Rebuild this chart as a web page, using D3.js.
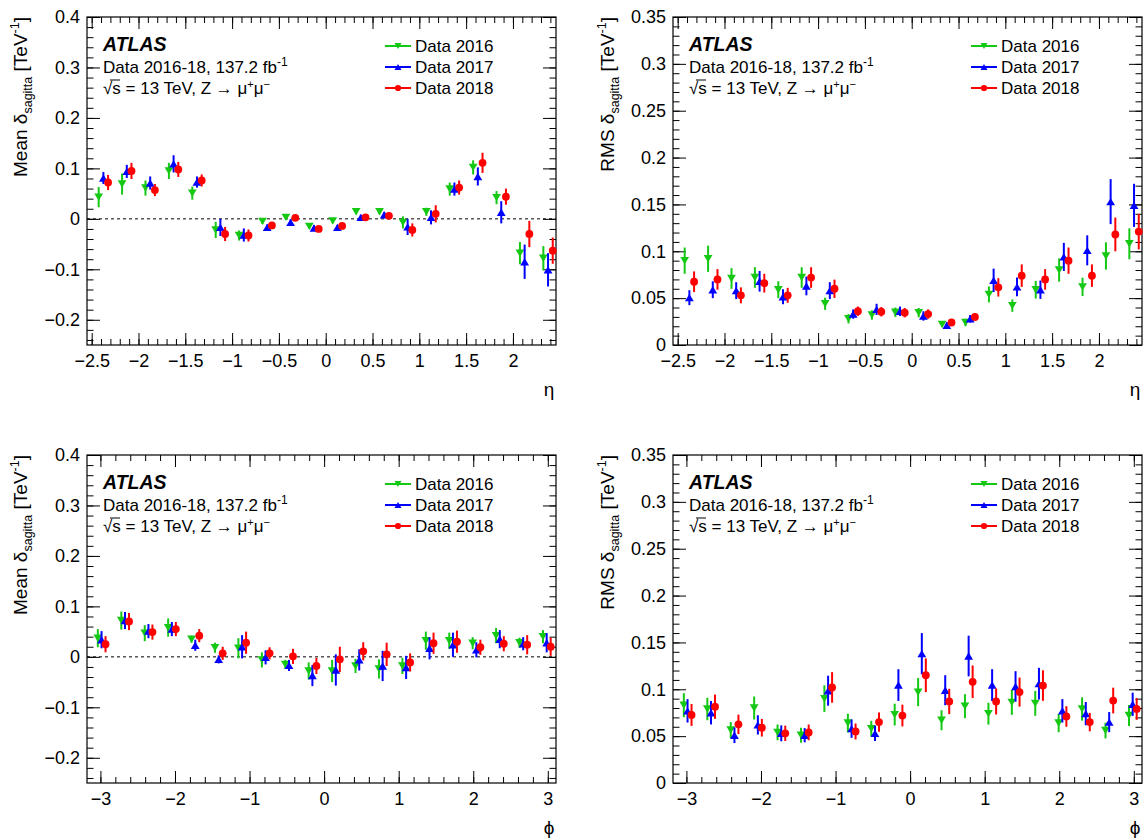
<!DOCTYPE html>
<html><head><meta charset="utf-8">
<script src="https://cdn.jsdelivr.net/npm/d3@7"></script>
<style>
body{margin:0;background:#fff;}
svg text{font-family:"Liberation Sans",Arial,Helvetica,sans-serif;fill:#000;}
</style></head><body>
<svg id="c" width="1146" height="839"></svg>
<script>
// ---------- data ----------
const seriesNames = ["Data 2016", "Data 2017", "Data 2018"];
const seriesColors = ["#14c814", "#0000ff", "#ff0000"];

const etaCenters = [-2.375,-2.125,-1.875,-1.625,-1.375,-1.125,-0.875,-0.625,-0.375,-0.125,0.125,0.375,0.625,0.875,1.125,1.375,1.625,1.875,2.125,2.375];
const phiCenters = [-2.985,-2.670,-2.356,-2.042,-1.728,-1.414,-1.100,-0.785,-0.471,-0.157,0.157,0.471,0.785,1.100,1.414,1.728,2.042,2.356,2.670,2.985];

const meanEta2016 = [0.043,0.069,0.061,0.095,0.051,-0.022,-0.033,-0.005,0.003,-0.015,-0.004,0.014,0.014,-0.007,0.014,0.059,0.102,0.042,-0.068,-0.078];
const meanEta2016Err = [0.020,0.021,0.015,0.016,0.013,0.016,0.010,0.005,0.005,0.005,0.005,0.005,0.005,0.012,0.008,0.013,0.014,0.013,0.022,0.024];
const meanEta2017 = [0.081,0.094,0.071,0.109,0.073,-0.017,-0.032,-0.017,-0.007,-0.018,-0.017,0.003,0.008,-0.016,0.003,0.059,0.084,0.013,-0.085,-0.101];
const meanEta2017Err = [0.012,0.013,0.013,0.017,0.011,0.017,0.013,0.006,0.006,0.005,0.005,0.005,0.005,0.016,0.014,0.013,0.018,0.022,0.034,0.033];
const meanEta2018 = [0.072,0.095,0.057,0.098,0.076,-0.030,-0.033,-0.013,0.002,-0.020,-0.014,0.003,0.006,-0.022,0.010,0.062,0.111,0.044,-0.030,-0.063];
const meanEta2018Err = [0.015,0.016,0.012,0.015,0.012,0.014,0.012,0.005,0.005,0.005,0.005,0.005,0.005,0.013,0.017,0.014,0.020,0.016,0.026,0.026];

const rmsEta2016 = [0.090,0.092,0.071,0.072,0.059,0.072,0.044,0.028,0.032,0.035,0.0345,0.022,0.024,0.054,0.042,0.059,0.080,0.062,0.095,0.108];
const rmsEta2016Err = [0.014,0.014,0.011,0.011,0.009,0.011,0.0065,0.005,0.005,0.005,0.005,0.003,0.004,0.0085,0.0066,0.0094,0.0124,0.0098,0.0146,0.0165];
const rmsEta2017 = [0.0505,0.059,0.058,0.068,0.0515,0.063,0.058,0.033,0.038,0.036,0.031,0.021,0.028,0.069,0.062,0.059,0.094,0.101,0.153,0.149];
const rmsEta2017Err = [0.008,0.009,0.009,0.011,0.008,0.010,0.009,0.005,0.006,0.005,0.005,0.003,0.004,0.0125,0.010,0.0098,0.015,0.016,0.024,0.023];
const rmsEta2018 = [0.0675,0.070,0.053,0.066,0.053,0.072,0.060,0.036,0.0355,0.0345,0.033,0.024,0.030,0.0615,0.074,0.070,0.090,0.074,0.118,0.121];
const rmsEta2018Err = [0.011,0.011,0.0085,0.010,0.008,0.011,0.0098,0.005,0.005,0.005,0.005,0.003,0.004,0.0098,0.012,0.011,0.014,0.012,0.018,0.019];

const meanPhi2016 = [0.037,0.072,0.047,0.058,0.035,0.018,0.017,-0.006,-0.015,-0.028,-0.028,-0.018,-0.024,-0.018,0.032,0.032,0.027,0.042,0.028,0.040];
const meanPhi2016Err = [0.018,0.018,0.016,0.018,0.007,0.010,0.020,0.015,0.009,0.017,0.022,0.014,0.019,0.016,0.018,0.016,0.012,0.015,0.010,0.013];
const meanPhi2017 = [0.034,0.072,0.051,0.055,0.023,-0.005,0.020,-0.001,-0.017,-0.037,-0.026,-0.006,-0.018,-0.021,0.017,0.024,0.014,0.035,0.026,0.028];
const meanPhi2017Err = [0.017,0.017,0.014,0.014,0.011,0.008,0.023,0.014,0.011,0.021,0.031,0.021,0.030,0.023,0.022,0.024,0.015,0.018,0.013,0.019];
const meanPhi2018 = [0.025,0.070,0.049,0.055,0.042,0.007,0.028,0.007,0.001,-0.018,-0.005,0.011,0.005,-0.011,0.027,0.030,0.019,0.026,0.024,0.020];
const meanPhi2018Err = [0.016,0.017,0.015,0.014,0.013,0.013,0.022,0.012,0.015,0.016,0.025,0.018,0.023,0.018,0.021,0.022,0.015,0.015,0.019,0.018];

const rmsPhi2016 = [0.083,0.079,0.0565,0.080,0.054,0.051,0.090,0.064,0.058,0.073,0.097,0.067,0.082,0.074,0.086,0.085,0.064,0.079,0.056,0.072];
const rmsPhi2016Err = [0.0128,0.012,0.0085,0.0123,0.0084,0.008,0.0142,0.010,0.0084,0.0116,0.015,0.0107,0.0128,0.0117,0.0133,0.0133,0.0098,0.0124,0.0084,0.0112];
const rmsPhi2017 = [0.077,0.075,0.051,0.062,0.053,0.051,0.0985,0.058,0.053,0.1045,0.138,0.099,0.1355,0.1045,0.103,0.106,0.077,0.074,0.065,0.084];
const rmsPhi2017Err = [0.0125,0.0125,0.0084,0.0103,0.0085,0.0076,0.016,0.0098,0.0082,0.0169,0.022,0.016,0.0217,0.017,0.0163,0.0169,0.0125,0.0124,0.0107,0.0124];
const rmsPhi2018 = [0.0726,0.0814,0.0626,0.059,0.053,0.054,0.102,0.055,0.065,0.072,0.115,0.087,0.108,0.087,0.097,0.104,0.071,0.065,0.088,0.079];
const rmsPhi2018Err = [0.0117,0.013,0.0103,0.0094,0.0082,0.0084,0.0163,0.0085,0.0103,0.0116,0.018,0.0135,0.0174,0.0139,0.0155,0.0163,0.011,0.0098,0.0137,0.0116];

const etaTicks = [-2.5,-2,-1.5,-1,-0.5,0,0.5,1,1.5,2];
const phiTicks = [-3,-2,-1,0,1,2,3];
const meanTicks = [-0.2,-0.1,0,0.1,0.2,0.3,0.4];
const rmsTicks = [0,0.05,0.1,0.15,0.2,0.25,0.3,0.35];

// ---------- drawing ----------
const svg = d3.select("#c");
const FONT = '"Liberation Sans",Arial,Helvetica,sans-serif';
const fmt = d => d === 0 ? "0" : String(+d.toFixed(3)).replace("-", "\u2212");

function minorRange(a, b, step) {
  const out = [];
  const n = Math.round((b - a) / step);
  for (let i = 0; i <= n; i++) out.push(+(a + i * step).toFixed(4));
  return out;
}

function drawPanel(cfg) {
  const g = svg.append("g");
  const x = d3.scaleLinear().domain(cfg.xDomain).range([cfg.left, cfg.right]);
  const y = d3.scaleLinear().domain(cfg.yDomain).range([cfg.bottom, cfg.top]);

  const addAxis = (axis, tx, ty) => {
    const a = g.append("g").attr("transform", `translate(${tx},${ty})`).call(axis);
    a.select(".domain").remove();
    a.selectAll("line").attr("stroke", "#000").attr("stroke-width", 1);
    a.selectAll("text").attr("font-family", FONT).attr("font-size", 18).attr("fill", "#000");
    return a;
  };
  // x axes
  addAxis(d3.axisBottom(x).tickValues(cfg.xTicks).tickSize(-12).tickPadding(9).tickFormat(fmt), 0, cfg.bottom);
  addAxis(d3.axisBottom(x).tickValues(cfg.xMinor).tickSize(-6).tickFormat(""), 0, cfg.bottom);
  addAxis(d3.axisTop(x).tickValues(cfg.xTicks).tickSize(-12).tickFormat(""), 0, cfg.top);
  addAxis(d3.axisTop(x).tickValues(cfg.xMinor).tickSize(-6).tickFormat(""), 0, cfg.top);
  // y axes
  addAxis(d3.axisLeft(y).tickValues(cfg.yTicks).tickSize(-13).tickPadding(7).tickFormat(fmt), cfg.left, 0);
  addAxis(d3.axisLeft(y).tickValues(cfg.yMinor).tickSize(-6.5).tickFormat(""), cfg.left, 0);
  addAxis(d3.axisRight(y).tickValues(cfg.yTicks).tickSize(-13).tickFormat(""), cfg.right, 0);
  addAxis(d3.axisRight(y).tickValues(cfg.yMinor).tickSize(-6.5).tickFormat(""), cfg.right, 0);

  // frame
  g.append("rect").attr("x", cfg.left).attr("y", cfg.top)
    .attr("width", cfg.right - cfg.left).attr("height", cfg.bottom - cfg.top)
    .attr("fill", "none").attr("stroke", "#000").attr("stroke-width", 1.2);

  // zero line
  if (cfg.zeroLine) {
    g.append("line").attr("x1", cfg.left).attr("x2", cfg.right)
      .attr("y1", y(0)).attr("y2", y(0))
      .attr("stroke", "#000").attr("stroke-width", 1).attr("stroke-dasharray", "3,3");
  }

  // data
  cfg.series.forEach((s, k) => {
    const sg = g.append("g");
    const pts = s.vals.map((v, i) => ({ xc: x(cfg.centers[i]) + cfg.offsets[k], v, e: s.errs[i] }));
    sg.selectAll("line.err").data(pts).enter().append("line")
      .attr("x1", d => d.xc).attr("x2", d => d.xc)
      .attr("y1", d => y(d.v - d.e)).attr("y2", d => y(d.v + d.e))
      .attr("stroke", seriesColors[k]).attr("stroke-width", 2);
    drawMarkers(sg, pts.map(d => [d.xc, y(d.v)]), k, 1);
  });

  // texts
  const tx = cfg.left + 16;
  g.append("text").attr("x", tx).attr("y", cfg.top + 34)
    .attr("font-size", 19.5).attr("font-weight", "bold").attr("font-style", "italic").text("ATLAS");
  const t2 = g.append("text").attr("x", tx).attr("y", cfg.top + 56).attr("font-size", 17);
  t2.append("tspan").text("Data 2016-18, 137.2 fb");
  t2.append("tspan").attr("font-size", 12).attr("dy", -7).text("-1");
  const t3 = g.append("text").attr("x", tx).attr("y", cfg.top + 77).attr("font-size", 17);
  t3.append("tspan").text("\u221As = 13 TeV, Z \u2192 \u03BC");
  t3.append("tspan").attr("font-size", 11).attr("dy", -6).text("+");
  t3.append("tspan").attr("dy", 6).text("\u03BC");
  t3.append("tspan").attr("font-size", 11).attr("dy", -6).text("\u2212");
  // overline of the square root
  g.append("line").attr("x1", tx + 7).attr("x2", tx + 17).attr("y1", cfg.top + 63).attr("y2", cfg.top + 63)
    .attr("stroke", "#000").attr("stroke-width", 1);

  // legend
  const lx = cfg.left + 298;
  seriesNames.forEach((name, k) => {
    const by = cfg.top + 35 + k * 21;
    g.append("line").attr("x1", lx).attr("x2", lx + 26).attr("y1", by - 6).attr("y2", by - 6)
      .attr("stroke", seriesColors[k]).attr("stroke-width", 2);
    drawMarkers(g, [[lx + 13, by - 6]], k, 0.8);
    g.append("text").attr("x", lx + 30).attr("y", by).attr("font-size", 17).text(name);
  });

  // axis titles
  const yt = g.append("text").attr("transform", `translate(${cfg.ytitleX},${cfg.top}) rotate(-90)`)
    .attr("text-anchor", "end").attr("font-size", 19);
  yt.append("tspan").text(cfg.ytitle + " \u03B4");
  yt.append("tspan").attr("font-size", 12.5).attr("dy", 5).text("sagitta");
  yt.append("tspan").attr("dy", -5).text(" [TeV");
  yt.append("tspan").attr("font-size", 12.5).attr("dy", -8).text("-1");
  yt.append("tspan").attr("dy", 8).text("]");

  g.append("text").attr("x", cfg.right - 7).attr("y", cfg.bottom + 51)
    .attr("text-anchor", "middle").attr("font-size", 19).attr("font-family", '"DejaVu Serif",serif').text(cfg.xtitle);
}

function drawMarkers(sel, coords, k, sc) {
  const w = 4.4 * sc, h = 3.7 * sc, r = 3.9 * sc;
  coords.forEach(([cx, cy]) => {
    if (k === 0) {
      sel.append("path").attr("d", `M${cx - w},${cy - h}L${cx + w},${cy - h}L${cx},${cy + h}Z`).attr("fill", seriesColors[k]);
    } else if (k === 1) {
      sel.append("path").attr("d", `M${cx - w},${cy + h}L${cx + w},${cy + h}L${cx},${cy - h}Z`).attr("fill", seriesColors[k]);
    } else {
      sel.append("circle").attr("cx", cx).attr("cy", cy).attr("r", r).attr("fill", seriesColors[k]);
    }
  });
}

const etaDomain = [-2.55, 2.46];
const phiDomain = [-3.18, 3.11];

const etaMinor = minorRange(-2.5, 2.4, 0.1);
const phiMinor = minorRange(-3.0, 3.0, 0.2);
const meanMinor = minorRange(-0.24, 0.4, 0.02);
const rmsMinor = minorRange(0, 0.35, 0.01);

drawPanel({
  left: 87, right: 556, top: 17, bottom: 345,
  xDomain: etaDomain, yDomain: [-0.25, 0.4],
  xTicks: etaTicks, xMinor: etaMinor, yTicks: meanTicks, yMinor: meanMinor,
  centers: etaCenters, offsets: [-4.7, 0, 4.7], zeroLine: true,
  series: [{ vals: meanEta2016, errs: meanEta2016Err }, { vals: meanEta2017, errs: meanEta2017Err }, { vals: meanEta2018, errs: meanEta2018Err }],
  ytitle: "Mean", ytitleX: 27, xtitle: "\u03B7"
});
drawPanel({
  left: 673, right: 1142, top: 17, bottom: 345,
  xDomain: etaDomain, yDomain: [0, 0.35],
  xTicks: etaTicks, xMinor: etaMinor, yTicks: rmsTicks, yMinor: rmsMinor,
  centers: etaCenters, offsets: [-4.7, 0, 4.7], zeroLine: false,
  series: [{ vals: rmsEta2016, errs: rmsEta2016Err }, { vals: rmsEta2017, errs: rmsEta2017Err }, { vals: rmsEta2018, errs: rmsEta2018Err }],
  ytitle: "RMS", ytitleX: 614, xtitle: "\u03B7"
});
drawPanel({
  left: 87, right: 556, top: 455, bottom: 783,
  xDomain: phiDomain, yDomain: [-0.25, 0.4],
  xTicks: phiTicks, xMinor: phiMinor, yTicks: meanTicks, yMinor: meanMinor,
  centers: phiCenters, offsets: [-3.7, 0, 4], zeroLine: true,
  series: [{ vals: meanPhi2016, errs: meanPhi2016Err }, { vals: meanPhi2017, errs: meanPhi2017Err }, { vals: meanPhi2018, errs: meanPhi2018Err }],
  ytitle: "Mean", ytitleX: 27, xtitle: "\u03D5"
});
drawPanel({
  left: 673, right: 1142, top: 455, bottom: 783,
  xDomain: phiDomain, yDomain: [0, 0.35],
  xTicks: phiTicks, xMinor: phiMinor, yTicks: rmsTicks, yMinor: rmsMinor,
  centers: phiCenters, offsets: [-3.7, 0, 4], zeroLine: false,
  series: [{ vals: rmsPhi2016, errs: rmsPhi2016Err }, { vals: rmsPhi2017, errs: rmsPhi2017Err }, { vals: rmsPhi2018, errs: rmsPhi2018Err }],
  ytitle: "RMS", ytitleX: 614, xtitle: "\u03D5"
});
</script>
</body></html>
